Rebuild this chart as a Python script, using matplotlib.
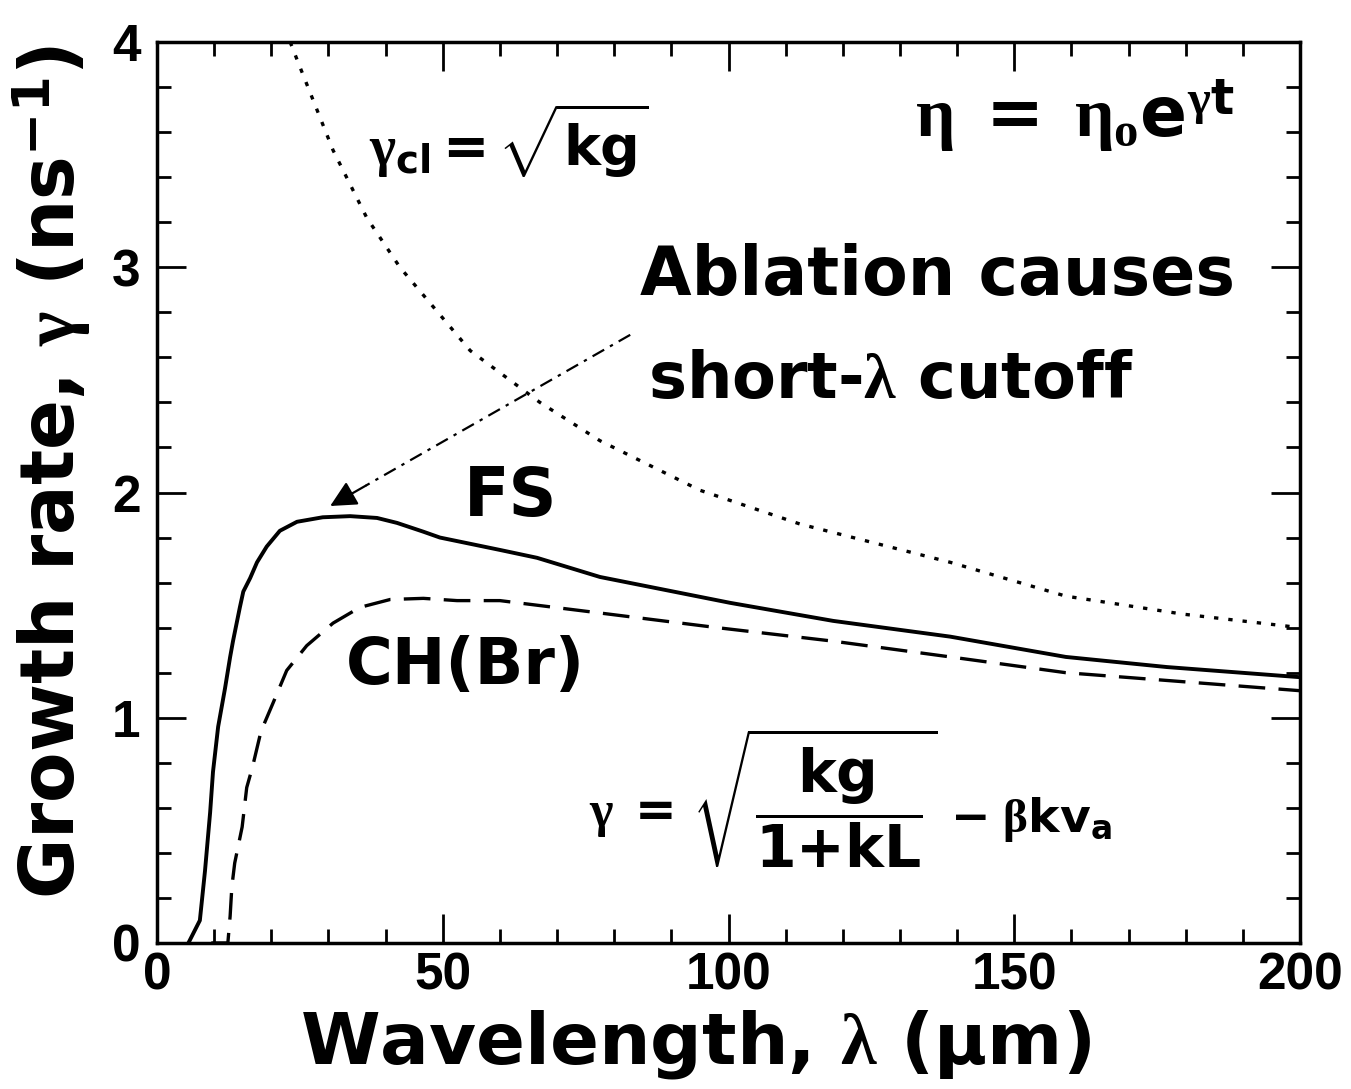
import numpy as np
import matplotlib
matplotlib.use('Agg')
import matplotlib.pyplot as plt

plt.rcParams['font.family'] = ['DejaVu Sans']
plt.rcParams['font.weight'] = 'bold'
plt.rcParams['mathtext.fontset'] = 'custom'
plt.rcParams['mathtext.rm'] = 'DejaVu Sans:bold'
plt.rcParams['mathtext.bf'] = 'DejaVu Sans:bold'
plt.rcParams['mathtext.it'] = 'Liberation Serif'
plt.rcParams['mathtext.sf'] = 'DejaVu Sans'

# growth rate vs perturbation wavelength
fs_lam = [5.5, 7.5, 8.4, 9.3, 9.8, 10.7, 11.9, 12.8, 13.3, 14.5, 15.1, 16.3,
          17.5, 19.2, 21.5, 24.5, 29.0, 33.8, 38.5, 42.0, 46.6, 49.5, 60.0,
          66.5, 77.5, 100.3, 118.3, 138.8, 159.0, 176.7, 200.0]
fs_gamma = [0.0, 0.10, 0.32, 0.58, 0.76, 0.96, 1.13, 1.27, 1.34, 1.49, 1.56, 1.62,
            1.69, 1.76, 1.83, 1.87, 1.89, 1.895, 1.887, 1.865, 1.826, 1.80, 1.745,
            1.71, 1.625, 1.51, 1.43, 1.36, 1.27, 1.225, 1.18]

ch_lam = [9.5, 12.4, 12.8, 13.1, 13.6, 14.9, 15.7, 16.7, 18.2, 20.3, 22.7, 26.2,
          30.8, 35.5, 40.8, 46.6, 52.5, 60.0, 77.5, 98.0, 118.3, 138.8, 159.0,
          179.5, 200.0]
ch_gamma = [0.0, 0.0, 0.12, 0.25, 0.355, 0.515, 0.69, 0.78, 0.94, 1.065, 1.21, 1.32,
            1.42, 1.49, 1.525, 1.53, 1.52, 1.52, 1.465, 1.40, 1.34, 1.27, 1.20,
            1.16, 1.12]

cl_lam = [23.3, 25.0, 30.8, 36.7, 42.5, 54.8, 67.0, 77.5, 95.0, 112.5, 138.8,
          159.0, 179.5, 200.0]
cl_gamma = [4.0, 3.89, 3.52, 3.22, 3.0, 2.63, 2.40, 2.23, 2.01, 1.86, 1.69,
            1.54, 1.46, 1.40]

xticks = [0, 50, 100, 150, 200]
yticks = [0, 1, 2, 3, 4]

fig = plt.figure(figsize=(13.51, 10.89), dpi=100)
ax = fig.add_axes([0.1162, 0.1341, 0.8461, 0.8273])

ax.plot(fs_lam, fs_gamma, color='k', lw=2.8)
ax.plot(ch_lam, ch_gamma, color='k', lw=2.4, linestyle=(0, (8, 4)))
ax.plot(cl_lam, cl_gamma, color='k', lw=2.4, linestyle=(0, (1.3, 3)))

# arrow pointing at the peak of the FS curve
arr_start = (82.8, 2.70)
arr_end = (30.3, 1.94)
arr_mid = (36.5, 2.03)
ax.plot([arr_start[0], arr_mid[0]], [arr_start[1], arr_mid[1]], color='k',
        lw=1.6, linestyle=(0, (6, 3, 1.5, 3)))
ax.annotate('', xy=arr_end, xytext=arr_mid,
            arrowprops=dict(arrowstyle='-|>', color='k', lw=1.6,
                            mutation_scale=40, shrinkA=0, shrinkB=0))

ax.set_xlim(0, 200)
ax.set_ylim(0, 4)
ax.set_xticks(xticks)
ax.set_yticks(yticks)
ax.set_xticks(np.arange(0, 201, 10), minor=True)
ax.set_yticks(np.arange(0, 4.01, 0.2), minor=True)
ax.tick_params(which='both', direction='in', top=True, right=True, width=2)
ax.tick_params(which='major', length=21)
ax.tick_params(which='minor', length=10)
ax.tick_params(axis='x', pad=6)
ax.tick_params(axis='y', pad=12)
for lab in ax.get_xticklabels() + ax.get_yticklabels():
    lab.set_family('Liberation Sans')
    lab.set_fontweight('bold')
    lab.set_fontsize(37)
for sp in ax.spines.values():
    sp.set_linewidth(2.5)

ax.set_xlabel(r'Wavelength, $\lambda$ (μm)', fontsize=52, fontweight='bold',
              va='center')
ax.xaxis.set_label_coords(0.4707, -0.1132)
ax.set_ylabel(r'Growth rate, $\gamma$ (ns$^{\mathbf{-1}}$)', fontsize=53,
              fontweight='bold', va='center')
ax.yaxis.set_label_coords(-0.092, 0.523)

ax.text(61.8, 1.98, 'FS', fontsize=48, fontweight='bold', ha='center', va='center')
ax.text(53.9, 1.23, 'CH(Br)', fontsize=46, fontweight='bold', ha='center', va='center')
ax.text(136.5, 2.96, 'Ablation causes', fontsize=48, fontweight='bold',
        ha='center', va='center')
ax.text(128.3, 2.50, r'short-$\lambda$ cutoff', fontsize=46, fontweight='bold',
        ha='center', va='center')

ax.text(61.5, 3.56, r'$\gamma_{\mathbf{cl}}{=}\sqrt{\mathbf{kg}}$', fontsize=40,
        ha='center', va='center')
ax.text(160.5, 3.67, r'$\eta\ =\ \eta_{\mathit{o}}\mathbf{e}^{\gamma\mathbf{t}}$',
        fontsize=50, ha='center', va='center')

ax.text(83.0, 0.57, r'$\gamma\ =$', fontsize=36, ha='center', va='center')
ax.text(115.0, 0.64, r'$\sqrt{\dfrac{\mathbf{kg}}{\mathbf{1{+}kL}}}$', fontsize=42,
        ha='center', va='center')
ax.text(153.0, 0.55, r'$-\ \beta\mathbf{kv_a}$', fontsize=34, ha='center',
        va='center')

fig.savefig('out.png', dpi=100)
